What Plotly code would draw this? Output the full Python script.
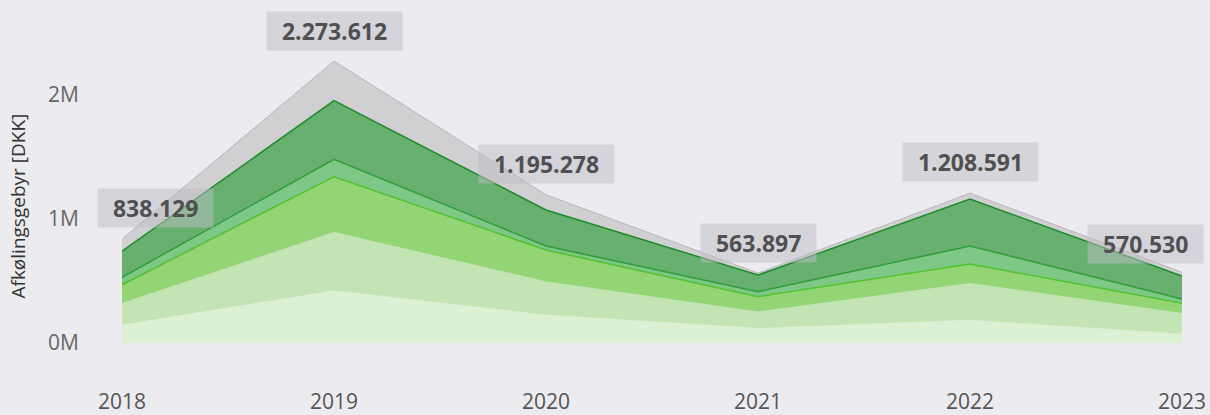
import plotly.graph_objects as go

years = [2018, 2019, 2020, 2021, 2022, 2023]
year_labels = ["2018", "2019", "2020", "2021", "2022", "2023"]

# stacked layers, bottom to top (DKK)
layer_1 = [145000, 422000, 226000, 118000, 185000, 73000]
layer_2 = [175000, 471000, 268000, 134000, 296000, 167000]
layer_3 = [150000, 448000, 256000, 121000, 156000, 80000]
layer_4 = [60000, 140000, 32000, 41000, 145000, 35000]
layer_5 = [210000, 473000, 291000, 134000, 379000, 185000]
layer_6 = [98129, 319612, 122278, 15897, 47591, 30530]

totals = [838129, 2273612, 1195278, 563897, 1208591, 570530]
total_labels = ["838.129", "2.273.612", "1.195.278", "563.897", "1.208.591", "570.530"]

y_ticks = [0, 1000000, 2000000]
y_tick_labels = ["0M", "1M", "2M"]

layers = [layer_1, layer_2, layer_3, layer_4, layer_5, layer_6]
fills = ["#dcf0d4", "#c2e5b3", "#93d474", "#7dc787", "#67b070", "#d0d0d3"]
lines = ["#dcf0d4", "#c2e5b3", "#52c22e", "#2e9e38", "#1f8a2a", "#b8b8b8"]
widths = [0.5, 0.5, 1.5, 1.5, 1.5, 1]

fig = go.Figure()
for vals, fc, lc, w in zip(layers, fills, lines, widths):
    fig.add_trace(go.Scatter(
        x=years, y=vals, mode="lines", stackgroup="one",
        fillcolor=fc, line=dict(color=lc, width=w), hoverinfo="skip",
        showlegend=False,
    ))

xshifts = [33, 0, 0, 0, 0, -37]
yshifts = [31, 30, 31, 30, 31, 28]
for x, t, lab, xs, ys in zip(years, totals, total_labels, xshifts, yshifts):
    fig.add_annotation(
        x=x, y=t, text="&nbsp;&nbsp;" + lab + "&nbsp;&nbsp;", showarrow=False,
        xshift=xs, yshift=ys,
        font=dict(family="Open Sans", size=23, color="#505052", weight="bold"),
        bgcolor="rgba(190,190,195,0.5)", borderpad=3,
    )

fig.add_annotation(
    text="Afkølingsgebyr [DKK]", textangle=-90, showarrow=False,
    xref="paper", yref="paper", x=0, y=0.47, xshift=-104,
    xanchor="center", yanchor="middle",
    font=dict(family="Open Sans", size=19, color="#333333"),
)

fig.update_layout(
    width=1210, height=415,
    margin=dict(l=122, r=28, t=3, b=28, autoexpand=False),
    paper_bgcolor="#ecebf0", plot_bgcolor="#ecebf0",
    xaxis=dict(
        range=[2018, 2023], tickvals=years, ticktext=year_labels,
        showgrid=False, zeroline=False, showline=False, automargin=False,
        tickfont=dict(family="Open Sans", size=21, color="#555555"),
    ),
    yaxis=dict(
        range=[-355000, 2742000], tickvals=y_ticks, ticktext=y_tick_labels,
        showgrid=False, zeroline=False, showline=False, automargin=False,
        ticklabelstandoff=42,
        tickfont=dict(family="Open Sans", size=21, color="#666666"),
    ),
)

fig.write_html(
    "out.html",
    config={"displayModeBar": False},
    post_script="document.body.style.margin='0';document.body.style.background='#ecebf0';",
)
